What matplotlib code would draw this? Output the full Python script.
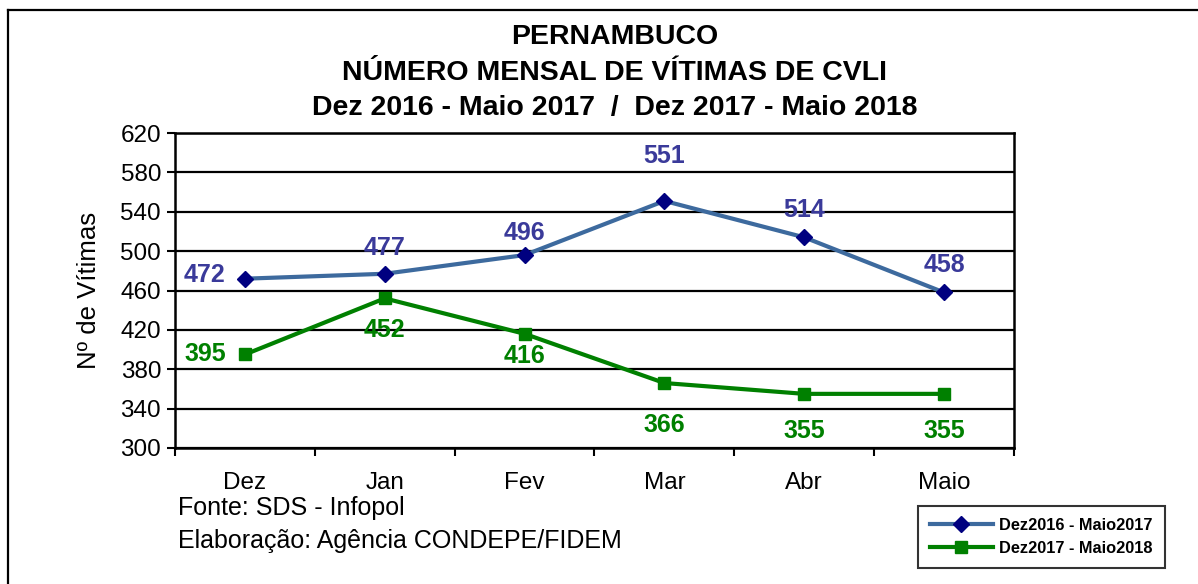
import matplotlib
matplotlib.use("Agg")
import matplotlib.pyplot as plt
from matplotlib.lines import Line2D

plt.rcParams['font.family'] = ['Liberation Sans', 'DejaVu Sans']

months = ["Dez", "Jan", "Fev", "Mar", "Abr", "Maio"]
serie_2017 = [472, 477, 496, 551, 514, 458]
serie_2018 = [395, 452, 416, 366, 355, 355]
name_2017 = "Dez2016 - Maio2017"
name_2018 = "Dez2017 - Maio2018"
yticks = [300, 340, 380, 420, 460, 500, 540, 580, 620]

# label offsets in pixels (style only)
off_2017 = [(-40, 4), (0, 26), (0, 22), (0, 45), (0, 27), (0, 27)]
off_2018 = [(-40, 0), (0, -32), (0, -22), (0, -42), (0, -37), (0, -37)]

W, H = 1198, 584
fig = plt.figure(figsize=(W / 100, H / 100), dpi=100)
fig.patch.set_facecolor("white")

# outer border (top and left visible)
fig.add_artist(Line2D([8 / W, 1.0], [1 - 10 / H, 1 - 10 / H], color="black", lw=1.6, transform=fig.transFigure))
fig.add_artist(Line2D([8 / W, 8 / W], [0, 1 - 10 / H], color="black", lw=1.6, transform=fig.transFigure))

ax = fig.add_axes([175 / W, 1 - 448 / H, (1014 - 175) / W, (448 - 133) / H])
x = list(range(len(months)))

blue_line = "#3D6A9E"
blue_marker = "#000080"
blue_text = "#3A3A9A"
green = "#008000"

ax.plot(x, serie_2017, color=blue_line, lw=3, marker="D", markersize=8.5,
        markerfacecolor=blue_marker, markeredgecolor=blue_marker, zorder=4, label=name_2017)
ax.plot(x, serie_2018, color=green, lw=3, marker="s", markersize=8,
        markerfacecolor=green, markeredgecolor=green, zorder=4, label=name_2018)

for xi, v, o in zip(x, serie_2017, off_2017):
    ax.annotate(str(v), (xi, v), xytext=o, textcoords="offset pixels", ha="center", va="center",
                fontsize=18, fontweight="bold", color=blue_text, zorder=5)
for xi, v, o in zip(x, serie_2018, off_2018):
    ax.annotate(str(v), (xi, v), xytext=o, textcoords="offset pixels", ha="center", va="center",
                fontsize=18, fontweight="bold", color=green, zorder=5)

ax.set_xlim(-0.5, len(months) - 0.5)
ax.set_ylim(300, 620)
ax.set_yticks(yticks)
ax.set_yticklabels([str(t) for t in yticks], fontsize=17.5)
ax.yaxis.grid(True, color="black", lw=1.6)
ax.set_axisbelow(True)
ax.set_xticks(x)
ax.set_xticklabels(months, fontsize=17.5)
ax.set_xticks([i - 0.5 for i in range(len(months) + 1)], minor=True)
ax.tick_params(axis="x", which="major", length=0, pad=17)
ax.tick_params(axis="x", which="minor", length=6, width=1.5, direction="out")
ax.tick_params(axis="y", length=6, width=1.5, direction="out", pad=4)
for s in ax.spines.values():
    s.set_color("black")
    s.set_linewidth(1.8)
ax.set_ylabel("Nº de Vítimas", fontsize=18.5, labelpad=14)

fig.text(615 / W, 1 - 37 / H, "PERNAMBUCO", ha="center", va="center", fontsize=20.5, fontweight="bold")
fig.text(615 / W, 1 - 73 / H, "NÚMERO MENSAL DE VÍTIMAS DE CVLI", ha="center", va="center", fontsize=20.5, fontweight="bold")
fig.text(615 / W, 1 - 108 / H, "Dez 2016 - Maio 2017  /  Dez 2017 - Maio 2018", ha="center", va="center", fontsize=20.5, fontweight="bold")

fig.text(178 / W, 1 - 508 / H, "Fonte: SDS - Infopol", ha="left", va="center", fontsize=18)
fig.text(178 / W, 1 - 541 / H, "Elaboração: Agência CONDEPE/FIDEM", ha="left", va="center", fontsize=18)

leg = fig.legend(loc="center", bbox_to_anchor=((908 + 1175) / 2 / W, 1 - 537 / H),
                 prop={"weight": "bold", "size": 11.8}, frameon=True, fancybox=False,
                 edgecolor="black", handlelength=3.8, borderpad=0.75, labelspacing=0.5,
                 handletextpad=0.4, borderaxespad=0)
leg.get_frame().set_linewidth(1.5)

fig.savefig("out.png", dpi=100)
